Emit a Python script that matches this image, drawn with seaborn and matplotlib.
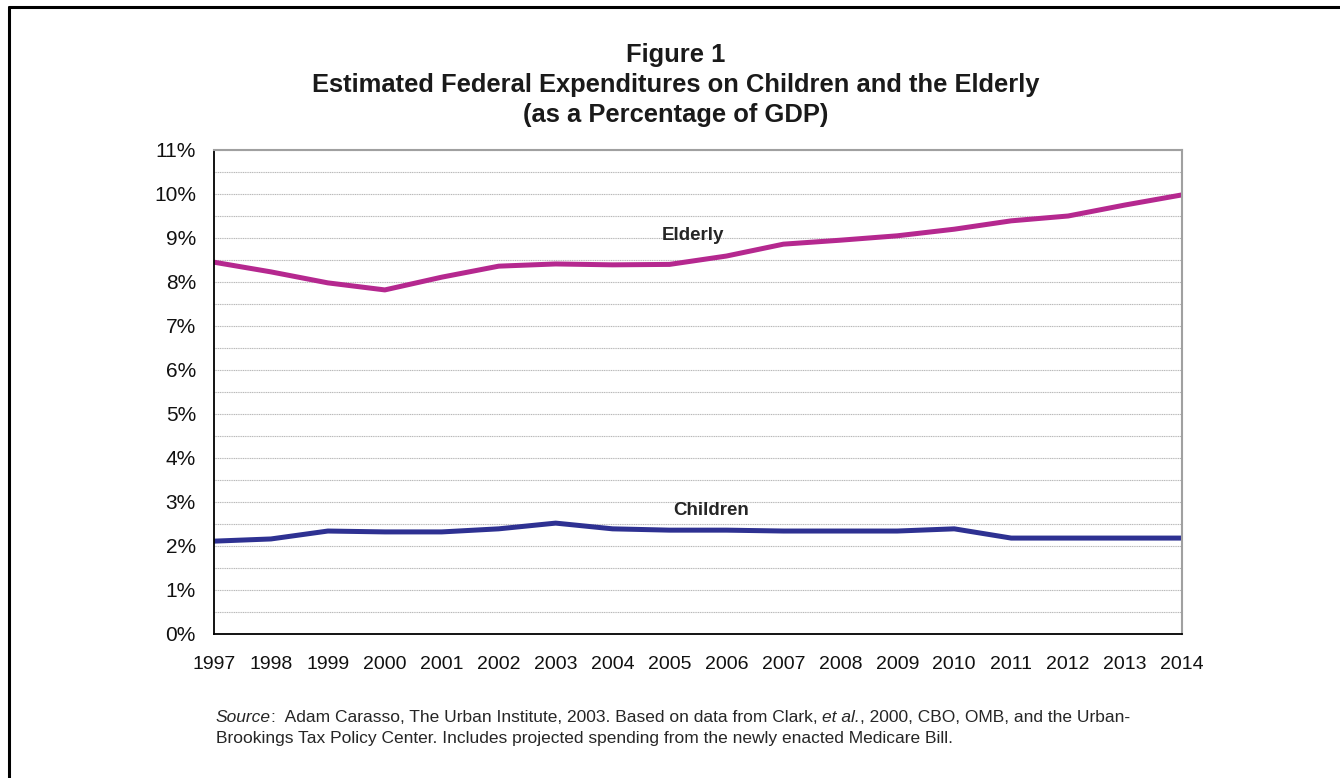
import matplotlib
matplotlib.use("Agg")
import matplotlib.pyplot as plt
import matplotlib.lines as mlines
import pandas as pd
import seaborn as sns
from matplotlib.ticker import FuncFormatter, MultipleLocator

years = list(range(1997, 2015))
elderly = [8.45, 8.23, 7.98, 7.82, 8.11, 8.36, 8.41, 8.39, 8.40, 8.59,
           8.86, 8.95, 9.05, 9.20, 9.39, 9.50, 9.75, 9.98]
children = [2.11, 2.16, 2.34, 2.32, 2.32, 2.39, 2.52, 2.39, 2.36, 2.36,
            2.34, 2.34, 2.34, 2.39, 2.18, 2.18, 2.18, 2.18]
series_names = ["Elderly", "Children"]
series_colors = ["#B5288F", "#2E3192"]

df = pd.DataFrame({"year": years, "Elderly": elderly, "Children": children})
long_df = df.melt(id_vars="year", var_name="group", value_name="pct")

sns.set_style("white")
plt.rcParams["font.family"] = ["Liberation Sans", "DejaVu Sans"]

fig = plt.figure(figsize=(13.4, 7.78), dpi=100)
ax = fig.add_axes([0.1597, 0.1851, 0.7224, 0.6221])

sns.lineplot(
    data=long_df, x="year", y="pct", hue="group",
    hue_order=series_names, palette=series_colors,
    linewidth=3.6, legend=False, ax=ax,
)
for line in ax.get_lines():
    line.set_solid_joinstyle("round")

ax.set_xlim(1997, 2014)
ax.set_ylim(0, 11)
ax.set_xticks(years)
ax.yaxis.set_major_locator(MultipleLocator(1))
ax.yaxis.set_minor_locator(MultipleLocator(0.5))
ax.yaxis.set_major_formatter(FuncFormatter(lambda v, _: f"{v:.0f}%"))
ax.grid(True, which="both", axis="y", color="#b8b8b8", linestyle=(0, (1, 0.6)), linewidth=0.8)
ax.set_axisbelow(True)
ax.set_xlabel("")
ax.set_ylabel("")

ax.tick_params(axis="both", which="major", direction="out", length=5, width=1.2,
               color="black", labelcolor="#111111")
ax.tick_params(axis="x", labelsize=14, pad=11)
ax.tick_params(axis="y", labelsize=15, pad=8)
ax.tick_params(axis="y", which="minor", length=0)

for side in ["left", "bottom"]:
    ax.spines[side].set_color("black")
    ax.spines[side].set_linewidth(1.3)
for side in ["top", "right"]:
    ax.spines[side].set_color("#a0a0a0")
    ax.spines[side].set_linewidth(1.5)

ax.text(2005.41, 9.05, "Elderly", fontsize=13.5, fontweight="bold", ha="center", va="center")
ax.text(2005.73, 2.80, "Children", fontsize=13.5, fontweight="bold", ha="center", va="center")

fig.text(0.504, 0.8907, "Figure 1\nEstimated Federal Expenditures on Children and the Elderly\n(as a Percentage of GDP)",
         ha="center", va="center", fontsize=18.4, fontweight="bold", color="#1a1a1a", linespacing=1.3)

# source note: mixed italic / regular runs placed one after another
renderer = fig.canvas.get_renderer()
runs = [("Source", "italic"),
        (":  Adam Carasso, The Urban Institute, 2003. Based on data from Clark, ", "normal"),
        ("et al.", "italic"),
        (", 2000, CBO, OMB, and the Urban-", "normal")]
x0 = 216
for txt, st in runs:
    t = fig.text(x0 / 1340, 1 - 722 / 778, txt, fontsize=12.5, style=st, ha="left", va="baseline")
    x0 = t.get_window_extent(renderer).x1
fig.text(216 / 1340, 1 - 743 / 778,
         "Brookings Tax Policy Center. Includes projected spending from the newly enacted Medicare Bill.",
         fontsize=12.5, ha="left", va="baseline")

fig.add_artist(mlines.Line2D([0.0065, 0.0065], [0.0, 0.991], transform=fig.transFigure, color="black", linewidth=2.2))
fig.add_artist(mlines.Line2D([0.0065, 1.0], [0.991, 0.991], transform=fig.transFigure, color="black", linewidth=2.2))

fig.savefig("out.png", dpi=100)
